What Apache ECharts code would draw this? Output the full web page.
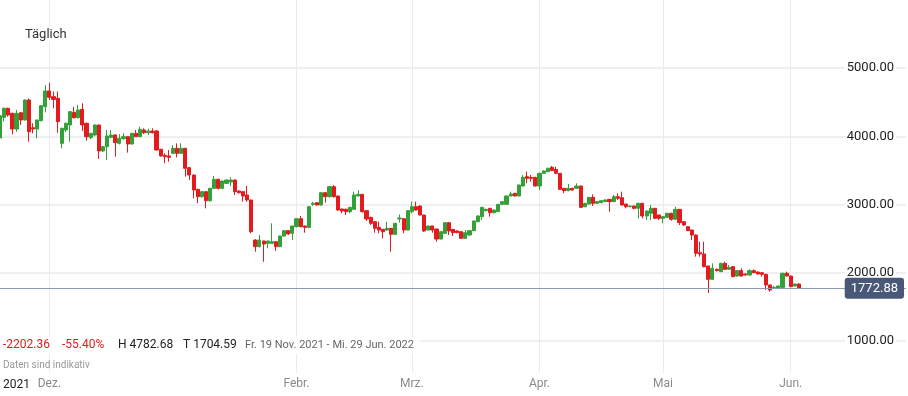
<!DOCTYPE html>
<html>
<head>
<meta charset="utf-8">
<script src="https://cdn.jsdelivr.net/npm/echarts@6/dist/echarts.min.js"></script>
<style>
html,body{margin:0;padding:0;background:#fff;}
#chart{width:908px;height:396px;}
</style>
</head>
<body>
<div id="chart"></div>
<script>
// ---------- data ----------
const startDate = '2021-11-19';
const endDate = '2022-06-29';
const skippedDates = ['2021-12-25', '2022-01-01'];
const monthTickDates = ['2021-12-01', '2022-02-01', '2022-03-01', '2022-04-01', '2022-05-01', '2022-06-01'];
const monthTickLabels = ['Dez.', 'Febr.', 'Mrz.', 'Apr.', 'Mai', 'Jun.'];
const yTicks = [1000, 2000, 3000, 4000, 5000];
const periodLabel = 'Täglich';
const yearLabel = '2021';
const rangeText = 'Fr. 19 Nov. 2021 - Mi. 29 Jun. 2022';
const noteText = 'Daten sind indikativ';

// [open, close, low, high] per day
const ohlc = [
  [3975.24,4300,3950,4350],[4277,4409,4214,4420],[4409,4311,4287,4420],[4336,4106,4028,4345],
  [4106,4336,4067,4385],[4345,4238,4165,4350],[4238,4531,4230,4540],[4531,4067,3920,4555],
  [4125,4106,4043,4190],[4106,4238,3970,4245],[4228,4448,4220,4455],[4433,4663,4350,4750],
  [4663,4570,4531,4782.68],[4580,4540,4409,4655],[4555,4214,4052,4655],[3896,4116,3823,4125],
  [4092,4190,4060,4200],[4165,4360,3920,4370],[4350,4272,4260,4430],[4272,4385,4260,4460],
  [4394,4165,4077,4482],[4190,3994,3935,4200],[3979,4043,3960,4050],[4018,4165,4000,4175],
  [4165,3784,3667,4170],[3784,3847,3770,3860],[3847,4004,3652,4092],[3984,4018,3970,4092],
  [4018,3906,3701,4030],[3896,3970,3880,4030],[3965,3994,3950,4043],[3994,3886,3760,4000],
  [3886,4043,3880,4050],[4043,3994,3990,4092],[3994,4101,3985,4140],[4092,4052,4033,4116],
  [4052,4077,4020,4110],[4077,4052,4040,4116],[4077,3799,3790,4090],[3809,3711,3700,3815],
  [3720,3701,3603,3750],[3711,3691,3628,3799],[3750,3823,3740,3870],[3823,3750,3691,3896],
  [3750,3823,3740,3896],[3823,3530,3408,3830],[3540,3432,3359,3545],[3432,3212,3090,3440],
  [3222,3115,3017,3230],[3115,3188,3100,3200],[3188,3056,2944,3195],[3056,3237,3040,3245],
  [3237,3369,3230,3418],[3369,3237,3220,3380],[3237,3344,3230,3350],[3310,3359,3300,3365],
  [3330,3359,3271,3400],[3359,3188,3139,3365],[3198,3173,3160,3205],[3188,3125,3042,3195],
  [3139,3066,3042,3271],[3066,2602,2578,3070],[2480,2382,2309,2490],[2382,2480,2370,2553],
  [2465,2421,2162,2470],[2431,2465,2358,2470],[2431,2455,2425,2724],[2455,2382,2319,2460],
  [2382,2538,2375,2545],[2538,2617,2530,2625],[2617,2568,2555,2625],[2578,2685,2480,2690],
  [2675,2792,2665,2800],[2792,2675,2665,2832],[2685,2665,2587,2690],[2665,2968,2655,2975],
  [3002,3017,2980,3040],[3027,2993,2985,3035],[2993,3173,2985,3180],[3173,3115,3027,3180],
  [3115,3261,3100,3271],[3261,3115,3100,3286],[3125,2919,2910,3130],[2934,2905,2871,2940],
  [2930,2895,2846,2940],[2895,2958,2871,2965],[2930,3139,2920,3188],[3125,3149,3120,3210],
  [3149,2895,2880,3155],[2910,2788,2760,2915],[2812,2724,2700,2820],[2748,2651,2587,2755],
  [2665,2626,2578,2748],[2636,2602,2504,2640],[2626,2651,2615,2748],[2651,2563,2309,2655],
  [2563,2724,2555,2730],[2788,2802,2734,2855],[2792,2626,2578,2800],[2626,2910,2620,2915],
  [2895,2968,2871,3042],[2968,2919,2910,3042],[2978,2846,2840,2985],[2846,2612,2600,2850],
  [2626,2685,2620,2690],[2685,2626,2587,2690],[2641,2494,2455,2645],[2494,2602,2490,2610],
  [2577,2734,2570,2740],[2734,2612,2553,2740],[2636,2587,2538,2640],[2612,2587,2580,2620],
  [2602,2504,2495,2610],[2504,2587,2495,2626],[2553,2617,2545,2625],[2617,2758,2610,2765],
  [2748,2832,2740,2840],[2822,2958,2773,2965],[2910,2929,2900,2940],[2944,2880,2822,2950],
  [2880,2919,2870,2925],[2895,3002,2890,3010],[3002,3042,2995,3050],[3002,3125,2995,3130],
  [3125,3154,3120,3188],[3164,3125,3118,3170],[3125,3286,3120,3290],[3271,3398,3265,3432],
  [3408,3383,3310,3481],[3398,3383,3335,3432],[3398,3271,3265,3405],[3271,3457,3212,3465],
  [3457,3491,3450,3500],[3481,3530,3475,3540],[3545,3496,3490,3564],[3515,3457,3450,3554],
  [3457,3222,3215,3462],[3237,3203,3164,3242],[3203,3237,3195,3300],[3237,3212,3205,3245],
  [3237,3271,3230,3310],[3271,2958,2950,3275],[2968,3017,2960,3025],[3007,3105,3000,3110],
  [3105,3017,2978,3149],[3017,3042,3010,3050],[3027,3056,3020,3060],[3042,3066,3035,3075],
  [3076,3042,2895,3080],[3042,3115,3035,3139],[3115,3090,3066,3164],[3100,2993,2985,3188],
  [3007,2968,2944,3010],[2968,2978,2960,2985],[2978,2944,2929,2985],[2944,3017,2797,3025],
  [3017,2832,2797,3025],[2832,2905,2773,2910],[2871,2944,2773,2993],[2944,2797,2790,2950],
  [2846,2797,2773,2850],[2797,2822,2724,2830],[2812,2871,2805,2880],[2871,2783,2763,2880],
  [2783,2929,2775,2968],[2929,2734,2700,2935],[2748,2700,2685,2755],[2675,2617,2610,2680],
  [2626,2553,2480,2630],[2553,2285,2236,2560],[2294,2275,2236,2455],[2275,2089,2080,2455],
  [2099,1904,1704.59,2105],[1904,2065,1895,2138],[2050,2031,2020,2060],[2016,2138,2010,2145],
  [2138,2050,2040,2162],[2050,2079,2040,2114],[2089,1943,1935,2095],[1952,2031,1945,2040],
  [2031,1952,1945,2065],[1982,1967,1960,1990],[1967,2031,1960,2050],[2031,2001,1995,2050],
  [2011,1982,1975,2015],[2001,1977,1943,2005],[1977,1821,1747,1985],[1821,1747,1723,1825],
  [1772,1786,1765,1806],[1772,1806,1765,1812],[1786,1992,1780,2000],[1992,1952,1945,2016],
  [1952,1796,1790,1958],[1806,1835,1800,1840],[1835,1772.88,1765,1845]
];

// ---------- derived ----------
const categories = [];
(function () {
  const a = startDate.split('-').map(Number), b = endDate.split('-').map(Number);
  const t1 = Date.UTC(b[0], b[1] - 1, b[2]);
  for (let t = Date.UTC(a[0], a[1] - 1, a[2]); t <= t1; t += 86400000) {
    const s = new Date(t).toISOString().slice(0, 10);
    if (skippedDates.indexOf(s) < 0) categories.push(s);
  }
})();
const tickSet = new Set(monthTickDates);
const firstOpen = ohlc[0][0];
const lastClose = ohlc[ohlc.length - 1][1];
const change = lastClose - firstOpen;
const pct = change / firstOpen * 100;
const hi = Math.max.apply(null, ohlc.map(d => d[3]));
const lo = Math.min.apply(null, ohlc.map(d => d[2]));

const FONT = 'Roboto, "Noto Sans", "DejaVu Sans", sans-serif';
const RED = '#e31b1f';
const GREEN = '#34a03a';

const chart = echarts.init(document.getElementById('chart'), null, { renderer: 'canvas' });
chart.setOption({
  animation: false,
  backgroundColor: '#fff',
  textStyle: { fontFamily: FONT },
  grid: [
    { left: -1, right: 2, top: 68, bottom: 55 },
    { left: -1, right: 2, top: 0, bottom: 23 }
  ],
  xAxis: [
    {
      type: 'category', gridIndex: 0, data: categories, boundaryGap: false,
      axisLine: { show: false }, axisTick: { show: false }, axisLabel: { show: false },
      splitLine: { show: false }
    },
    {
      type: 'category', gridIndex: 1, data: categories, boundaryGap: false,
      axisLine: { show: false }, axisTick: { show: false },
      axisLabel: {
        show: true,
        interval: (i, v) => tickSet.has(v),
        formatter: v => monthTickLabels[monthTickDates.indexOf(v)] || '',
        color: '#8a8a8a', fontSize: 12, margin: 5, fontFamily: FONT
      },
      splitLine: {
        show: true,
        interval: (i, v) => tickSet.has(v),
        lineStyle: { color: '#ebebeb', width: 1 }
      }
    }
  ],
  yAxis: [
    {
      type: 'value', gridIndex: 0, position: 'right',
      min: yTicks[0], max: yTicks[yTicks.length - 1], interval: yTicks[1] - yTicks[0],
      axisLine: { show: false }, axisTick: { show: false },
      axisLabel: {
        inside: true, margin: 10, formatter: v => v.toFixed(2),
        color: '#222', fontSize: 13, fontFamily: FONT,
        backgroundColor: '#fff', padding: [1, 2]
      },
      splitLine: { show: true, lineStyle: { color: '#efefef', width: 2 } }
    },
    { type: 'value', gridIndex: 1, show: false, splitLine: { show: false } }
  ],
  series: [
    {
      type: 'candlestick', xAxisIndex: 0, yAxisIndex: 0,
      data: ohlc, barWidth: 3.6,
      itemStyle: { color: GREEN, color0: RED, borderColor: GREEN, borderColor0: RED, borderWidth: 1 },
      markLine: {
        silent: true, animation: false, symbol: ['none', 'none'],
        lineStyle: { color: '#8e9ab0', width: 1, type: 'solid' },
        label: {
          show: true, position: 'insideEnd', distance: 2,
          formatter: () => lastClose.toFixed(2),
          color: '#fff', backgroundColor: '#4a5878', borderRadius: 3,
          padding: [4, 6], fontSize: 13, fontFamily: FONT
        },
        emphasis: { disabled: true },
        data: [{ yAxis: lastClose }]
      }
    }
  ],
  graphic: [
    { type: 'text', x: 25, y: 35, z: 100,
      style: { text: periodLabel, fill: '#333', font: '13px ' + FONT, verticalAlign: 'middle', backgroundColor: '#fff' } },
    { type: 'rect', z: 90, shape: { x: 0, y: 337, width: 420, height: 17 }, style: { fill: '#fff' } },
    { type: 'text', x: 3, y: 345, z: 100,
      style: { text: change.toFixed(2), fill: RED, font: '12px ' + FONT, verticalAlign: 'middle' } },
    { type: 'text', x: 62, y: 345, z: 100,
      style: { text: pct.toFixed(2) + '%', fill: RED, font: '12px ' + FONT, verticalAlign: 'middle' } },
    { type: 'text', x: 118, y: 345, z: 100,
      style: { text: 'H ' + hi.toFixed(2), fill: '#222', font: '12px ' + FONT, verticalAlign: 'middle' } },
    { type: 'text', x: 183, y: 345, z: 100,
      style: { text: 'T ' + lo.toFixed(2), fill: '#222', font: '12px ' + FONT, verticalAlign: 'middle' } },
    { type: 'text', x: 245, y: 345, z: 100,
      style: { text: rangeText, fill: '#666', font: '11px ' + FONT, verticalAlign: 'middle' } },
    { type: 'text', x: 3, y: 365, z: 100,
      style: { text: noteText, fill: '#999', font: '10px ' + FONT, verticalAlign: 'middle' } },
    { type: 'text', x: 3, y: 385, z: 100,
      style: { text: yearLabel, fill: '#222', font: '12px ' + FONT, verticalAlign: 'middle' } }
  ]
});
</script>
</body>
</html>
